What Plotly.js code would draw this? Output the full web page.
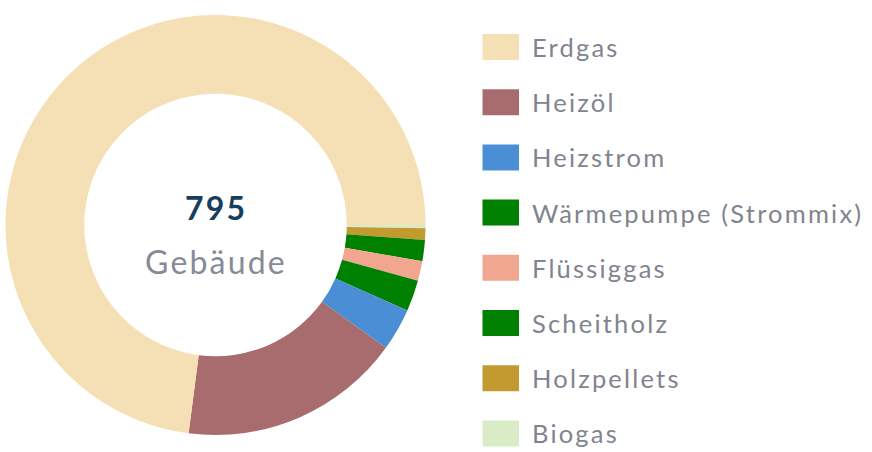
<!DOCTYPE html>
<html>
<head>
<meta charset="utf-8">
<script src="https://cdn.plot.ly/plotly-3.0.1.min.js"></script>
<style>
    html, body { margin: 0; padding: 0; background: #fff; }
    #chart { width: 872px; height: 452px; }
    /* the source font runs a bit wider than Lato */
    .annotation-text { letter-spacing: 2.2px; }
</style>
</head>
<body>
<div id="chart"></div>
<script>
// Anzahl Gebäude je Energieträger
var labels = ['Erdgas', 'Heizöl', 'Heizstrom', 'Wärmepumpe (Strommix)', 'Flüssiggas', 'Scheitholz', 'Holzpellets', 'Biogas'];
var values = [580, 136, 26, 19, 12, 13, 7, 2];
var colors = ['#f5dfb4', '#a86c6f', '#4a8ed6', '#008000', '#f1a68f', '#008000', '#c29a30', '#d9ecc6'];
var centerLabel = 'Gebäude';

var textGrey = '#80848f';
var W = 872, H = 452;

function px(x) { return x / W; }
function py(y) { return 1 - y / H; }

var total = values.reduce(function (a, b) { return a + b; }, 0);

// slices go clockwise from 3 o'clock, starting with the last entry
var donut = {
    type: 'pie',
    labels: labels.slice().reverse(),
    values: values.slice().reverse(),
    marker: { colors: colors.slice().reverse(), line: { width: 0 } },
    hole: 0.625,
    sort: false,
    direction: 'clockwise',
    rotation: 90,
    textinfo: 'none',
    hoverinfo: 'label+value',
    showlegend: false,
    domain: { x: [px(5.5), px(425.5)], y: [py(435), py(15)] }
};

var shapes = [];
var annotations = [
    {
        x: px(216), y: py(207), xref: 'paper', yref: 'paper',
        xanchor: 'center', yanchor: 'middle',
        text: '<b>' + total + '</b>', showarrow: false,
        font: { family: 'Lato', size: 32, color: '#173d5f' }
    },
    {
        x: px(216), y: py(261), xref: 'paper', yref: 'paper',
        xanchor: 'center', yanchor: 'middle',
        text: centerLabel, showarrow: false,
        font: { family: 'Lato', size: 32, color: '#868a97' }
    }
];

// legend drawn by hand so the swatches get the big rectangle look
labels.forEach(function (name, i) {
    var cy = 47 + i * 55.2;
    shapes.push({
        type: 'rect', xref: 'paper', yref: 'paper',
        x0: px(482.5), x1: px(519), y0: py(cy - 13), y1: py(cy + 13),
        fillcolor: colors[i], line: { width: 0 }
    });
    annotations.push({
        x: px(530), y: py(cy), xref: 'paper', yref: 'paper',
        xanchor: 'left', yanchor: 'middle',
        text: name, showarrow: false,
        font: { family: 'Lato', size: 25.5, color: textGrey }
    });
});

var layout = {
    width: W,
    height: H,
    margin: { l: 0, r: 0, t: 0, b: 0 },
    paper_bgcolor: '#fff',
    showlegend: false,
    shapes: shapes,
    annotations: annotations
};

Plotly.newPlot('chart', [donut], layout, { displayModeBar: false, staticPlot: true });
</script>
</body>
</html>
